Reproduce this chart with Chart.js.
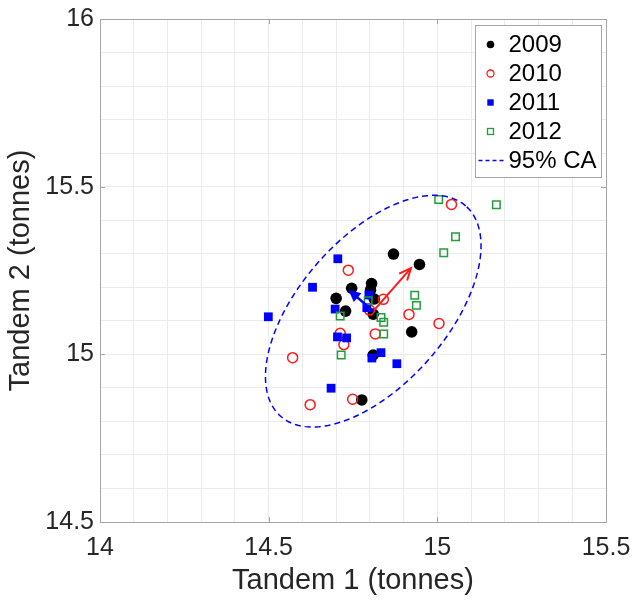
<!DOCTYPE html>
<html>
<head>
<meta charset="utf-8">
<script src="https://cdn.jsdelivr.net/npm/chart.js@4/dist/chart.umd.min.js"></script>
<style>
  html, body { margin: 0; padding: 0; background: #ffffff; }
  #wrap { width: 634px; height: 600px; }
</style>
</head>
<body>
<div id="wrap"><canvas id="c" width="634" height="600"></canvas></div>
<script>
// Tandem axle loads per year (tonnes)
const years = ['2009', '2010', '2011', '2012'];

const x2009 = [14.870, 14.947, 14.746, 14.805, 14.802, 14.700, 14.813, 14.728, 14.810, 14.924, 14.810, 14.776];
const y2009 = [15.299, 15.268, 15.197, 15.211, 15.192, 15.167, 15.165, 15.129, 15.120, 15.067, 14.998, 14.864];

const x2010 = [15.042, 14.736, 14.840, 14.799, 14.916, 15.005, 14.816, 14.712, 14.723, 14.571, 14.749, 14.623];
const y2010 = [15.447, 15.251, 15.164, 15.132, 15.119, 15.092, 15.061, 15.063, 15.029, 14.990, 14.866, 14.850];

const x2011 = [14.705, 14.630, 14.797, 14.697, 14.791, 14.499, 14.704, 14.731, 14.833, 14.806, 14.880, 14.685];
const y2011 = [15.285, 15.200, 15.177, 15.135, 15.139, 15.112, 15.052, 15.049, 15.005, 14.989, 14.972, 14.899];

const x2012 = [15.004, 15.175, 15.054, 15.019, 14.933, 14.938, 14.795, 14.712, 14.833, 14.841, 14.841, 14.715];
const y2012 = [15.462, 15.446, 15.351, 15.303, 15.176, 15.146, 15.160, 15.114, 15.110, 15.096, 15.061, 14.998];

const xMajor = [14, 14.5, 15, 15.5];
const xTickLabels = ['14', '14.5', '15', '15.5'];
const yMajor = [14.5, 15, 15.5, 16];
const yTickLabels = ['14.5', '15', '15.5', '16'];
const caLabel = '95% CA';
const chi2_95 = 5.991; // chi-square, 2 degrees of freedom, p = 0.95

const FONT = "'Liberation Sans', Arial, Helvetica, sans-serif";
const TEXT = '#262626';
const FRAME = '#a6a6a6';
const GRID = '#ebebeb';
const BLACK = '#000000', RED = '#ff1a1a', BLUE = '#0000ff', GREEN = '#1f9e3a';

const toPts = (xs, ys) => xs.map((x, i) => ({ x: x, y: ys[i] }));

// Pooled covariance of all years -> confidence ellipse and principal axes
const allX = [].concat(x2009, x2010, x2011, x2012);
const allY = [].concat(y2009, y2010, y2011, y2012);
const n = allX.length;
const mx = allX.reduce((a, b) => a + b, 0) / n;
const my = allY.reduce((a, b) => a + b, 0) / n;
let sxx = 0, syy = 0, sxy = 0;
for (let i = 0; i < n; i++) {
  const dx = allX[i] - mx, dy = allY[i] - my;
  sxx += dx * dx; syy += dy * dy; sxy += dx * dy;
}
sxx /= (n - 1); syy /= (n - 1); sxy /= (n - 1);
const tr = sxx + syy, det = sxx * syy - sxy * sxy;
const disc = Math.sqrt(Math.max(tr * tr / 4 - det, 0));
const l1 = tr / 2 + disc, l2 = tr / 2 - disc;
let v1x = sxy, v1y = l1 - sxx;
const v1n = Math.hypot(v1x, v1y) || 1;
v1x /= v1n; v1y /= v1n;
if (v1x < 0) { v1x = -v1x; v1y = -v1y; }
let v2x = -v1y, v2y = v1x;
if (v2y < 0) { v2x = -v2x; v2y = -v2y; }

const ellipse = [];
const a = Math.sqrt(chi2_95 * l1), b = Math.sqrt(chi2_95 * l2);
for (let k = 0; k <= 200; k++) {
  const t = 2 * Math.PI * k / 200;
  ellipse.push({
    x: mx + a * Math.cos(t) * v1x + b * Math.sin(t) * v2x,
    y: my + a * Math.cos(t) * v1y + b * Math.sin(t) * v2y
  });
}
const arrowMajor = [{ x: mx, y: my }, { x: mx + Math.sqrt(l1) * v1x, y: my + Math.sqrt(l1) * v1y }];
const arrowMinor = [{ x: mx, y: my }, { x: mx + Math.sqrt(l2) * v2x, y: my + Math.sqrt(l2) * v2y }];

const labelFor = (majors, labels) => (v) => {
  const i = majors.findIndex(m => Math.abs(m - v) < 1e-6);
  return i >= 0 ? labels[i] : '';
};

// Frame, inward tick marks, arrowheads and the legend box
const decorations = {
  id: 'decorations',
  afterDatasetsDraw(chart) {
    const ctx = chart.ctx;
    const heads = [
      { idx: 5, color: RED, len: 13, half: 0.42, filled: false, width: 2 },
      { idx: 6, color: BLUE, len: 9, half: 0.45, filled: true, width: 2.5 }
    ];
    heads.forEach(h => {
      const pts = chart.getDatasetMeta(h.idx).data;
      const p0 = pts[0], p1 = pts[1];
      const ang = Math.atan2(p1.y - p0.y, p1.x - p0.x);
      ctx.save();
      ctx.strokeStyle = h.color; ctx.fillStyle = h.color; ctx.lineWidth = h.width;
      ctx.lineJoin = 'miter';
      ctx.beginPath();
      ctx.moveTo(p1.x - h.len * Math.cos(ang - h.half), p1.y - h.len * Math.sin(ang - h.half));
      ctx.lineTo(p1.x, p1.y);
      ctx.lineTo(p1.x - h.len * Math.cos(ang + h.half), p1.y - h.len * Math.sin(ang + h.half));
      if (h.filled) { ctx.closePath(); ctx.fill(); }
      ctx.stroke();
      ctx.restore();
    });
  },
  afterDraw(chart) {
    const ctx = chart.ctx;
    const ca = chart.chartArea;
    const xs = chart.scales.x, ys = chart.scales.y;
    ctx.save();
    ctx.strokeStyle = FRAME; ctx.lineWidth = 1;
    ctx.strokeRect(Math.round(ca.left) + 0.5, Math.round(ca.top) + 0.5,
                   Math.round(ca.right - ca.left), Math.round(ca.bottom - ca.top));
    ctx.beginPath();
    xMajor.forEach(v => {
      const px = Math.round(xs.getPixelForValue(v)) + 0.5;
      ctx.moveTo(px, ca.bottom); ctx.lineTo(px, ca.bottom - 5);
      ctx.moveTo(px, ca.top); ctx.lineTo(px, ca.top + 5);
    });
    yMajor.forEach(v => {
      const py = Math.round(ys.getPixelForValue(v)) + 0.5;
      ctx.moveTo(ca.left, py); ctx.lineTo(ca.left + 5, py);
      ctx.moveTo(ca.right, py); ctx.lineTo(ca.right - 5, py);
    });
    ctx.stroke();

    // legend
    const bw = 126, bh = 152;
    const bx = Math.round(ca.right - 5 - bw) + 0.5, by = Math.round(ca.top + 6) + 0.5;
    ctx.fillStyle = '#ffffff';
    ctx.fillRect(bx, by, bw, bh);
    ctx.strokeStyle = FRAME;
    ctx.strokeRect(bx, by, bw, bh);
    const entries = [
      { label: years[0], kind: 'dot', color: BLACK },
      { label: years[1], kind: 'ring', color: RED },
      { label: years[2], kind: 'square', color: BLUE },
      { label: years[3], kind: 'box', color: GREEN },
      { label: caLabel, kind: 'dash', color: BLUE }
    ];
    ctx.font = '24px ' + FONT;
    ctx.textBaseline = 'middle';
    ctx.textAlign = 'left';
    entries.forEach((e, i) => {
      const cy = by + 19 + i * 29;
      const mxp = bx + 15;
      ctx.fillStyle = e.color; ctx.strokeStyle = e.color;
      if (e.kind === 'dot') {
        ctx.beginPath(); ctx.arc(mxp, cy, 3.8, 0, 2 * Math.PI); ctx.fill();
      } else if (e.kind === 'ring') {
        ctx.lineWidth = 1.3;
        ctx.beginPath(); ctx.arc(mxp, cy, 3.5, 0, 2 * Math.PI); ctx.stroke();
      } else if (e.kind === 'square') {
        ctx.fillRect(mxp - 3.2, cy - 3.2, 6.4, 6.4);
      } else if (e.kind === 'box') {
        ctx.lineWidth = 1.3;
        ctx.strokeRect(mxp - 3, cy - 3, 6, 6);
      } else {
        ctx.lineWidth = 1.3;
        ctx.setLineDash([4, 3]);
        ctx.beginPath(); ctx.moveTo(bx + 3, cy); ctx.lineTo(bx + 29, cy); ctx.stroke();
        ctx.setLineDash([]);
      }
      ctx.fillStyle = '#000000';
      ctx.fillText(e.label, bx + 33, cy + 1);
    });
    ctx.restore();
  }
};

const ctx = document.getElementById('c').getContext('2d');
new Chart(ctx, {
  type: 'scatter',
  data: {
    datasets: [
      { label: years[0], data: toPts(x2009, y2009), order: 7,
        pointStyle: 'circle', pointRadius: 5.8, backgroundColor: BLACK, borderColor: BLACK, borderWidth: 0 },
      { label: years[1], data: toPts(x2010, y2010), order: 6,
        pointStyle: 'circle', pointRadius: 5.0, backgroundColor: 'rgba(0,0,0,0)', borderColor: RED, borderWidth: 1.5 },
      { label: years[2], data: toPts(x2011, y2011), order: 5,
        pointStyle: 'rect', pointRadius: 6.2, backgroundColor: BLUE, borderColor: BLUE, borderWidth: 0 },
      { label: years[3], data: toPts(x2012, y2012), order: 4,
        pointStyle: 'rect', pointRadius: 5.3, backgroundColor: 'rgba(0,0,0,0)', borderColor: GREEN, borderWidth: 1.5 },
      { label: caLabel, data: ellipse, order: 3, showLine: true, pointRadius: 0,
        borderColor: BLUE, borderWidth: 1.5, borderDash: [6, 4], fill: false, tension: 0 },
      { label: 'major axis', data: arrowMajor, order: 2, showLine: true, pointRadius: 0,
        borderColor: RED, borderWidth: 2, fill: false },
      { label: 'minor axis', data: arrowMinor, order: 1, showLine: true, pointRadius: 0,
        borderColor: BLUE, borderWidth: 2.5, fill: false }
    ]
  },
  options: {
    responsive: false,
    animation: false,
    layout: { padding: { top: 19, right: 28, left: 0, bottom: 0 } },
    plugins: { legend: { display: false }, tooltip: { enabled: false } },
    scales: {
      x: {
        type: 'linear', min: 14, max: 15.5,
        afterFit(scale) { scale.height = 78; scale.paddingRight = 0; scale.paddingLeft = 0; },
        grid: { color: GRID, lineWidth: 1, drawTicks: false },
        border: { display: false },
        ticks: { stepSize: 0.1, autoSkip: false, maxRotation: 0, padding: 11,
                 color: TEXT, font: { family: FONT, size: 25 },
                 callback: labelFor(xMajor, xTickLabels) },
        title: { display: true, text: 'Tandem 1 (tonnes)', color: TEXT,
                 font: { family: FONT, size: 29 }, padding: { top: 0, bottom: 2 } }
      },
      y: {
        type: 'linear', min: 14.5, max: 16,
        afterFit(scale) { scale.width = 100; scale.paddingTop = 0; scale.paddingBottom = 0; },
        grid: { color: GRID, lineWidth: 1, drawTicks: false },
        border: { display: false },
        ticks: { stepSize: 0.1, autoSkip: false, padding: 6,
                 color: TEXT, font: { family: FONT, size: 25 },
                 callback: labelFor(yMajor, yTickLabels) },
        title: { display: true, text: 'Tandem 2 (tonnes)', color: TEXT,
                 font: { family: FONT, size: 29 }, padding: { top: 4, bottom: 0 } }
      }
    }
  },
  plugins: [decorations]
});
</script>
</body>
</html>
